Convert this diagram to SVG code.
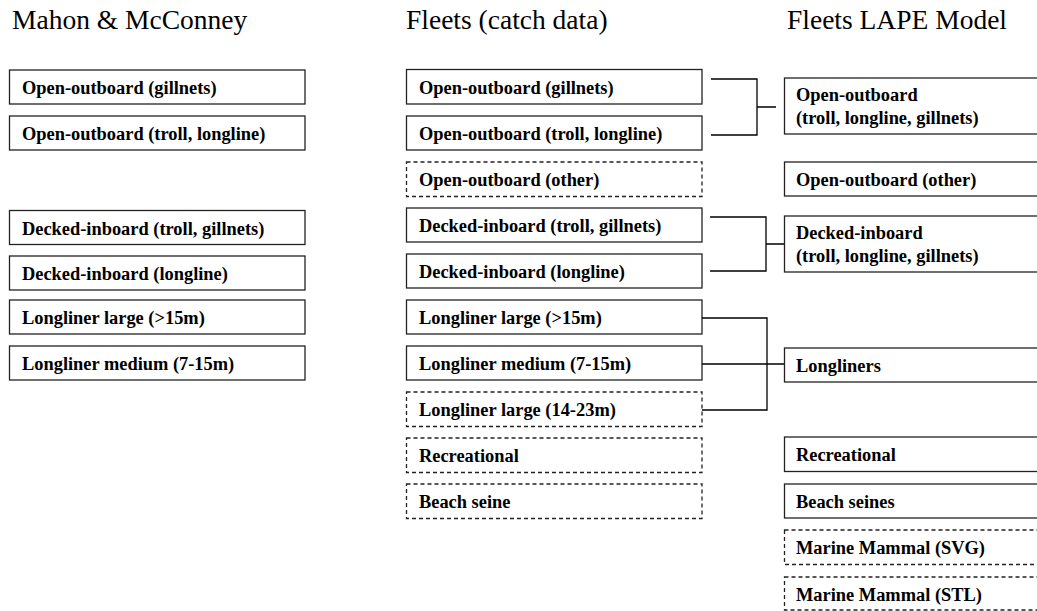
<svg xmlns="http://www.w3.org/2000/svg" width="1037" height="611" viewBox="0 0 1037 611">
<style>
.t{font-family:'Liberation Serif','Times New Roman',serif;font-size:27.5px;fill:#000}
.b{fill:#fff;stroke:#222;stroke-width:1.3}
.d{fill:#fff;stroke:#222;stroke-width:1.3;stroke-dasharray:4 3}
.l{font-family:'Liberation Serif','Times New Roman',serif;font-size:18.4px;font-weight:bold;fill:#000}
.c{fill:none;stroke:#000;stroke-width:1.3}
</style>
<rect width="1037" height="611" fill="#fff"/>
<g id="titles">
<text class="t" x="12" y="29">Mahon &amp; McConney</text>
<text class="t" x="406" y="29">Fleets (catch data)</text>
<text class="t" x="787" y="29">Fleets LAPE Model</text>
</g>
<g id="mm1"><rect class="b" x="9.5" y="70" width="295.5" height="34"/><text class="l" x="22" y="94">Open-outboard (gillnets)</text></g>
<g id="mm2"><rect class="b" x="9.5" y="116" width="295.5" height="34"/><text class="l" x="22" y="140">Open-outboard (troll, longline)</text></g>
<g id="mm3"><rect class="b" x="9.5" y="210.5" width="295.5" height="34"/><text class="l" x="22" y="234.5">Decked-inboard (troll, gillnets)</text></g>
<g id="mm4"><rect class="b" x="9.5" y="256" width="295.5" height="34"/><text class="l" x="22" y="280">Decked-inboard (longline)</text></g>
<g id="mm5"><rect class="b" x="9.5" y="300" width="295.5" height="34"/><text class="l" x="22" y="324">Longliner large (&gt;15m)</text></g>
<g id="mm6"><rect class="b" x="9.5" y="346" width="295.5" height="34"/><text class="l" x="22" y="370">Longliner medium (7-15m)</text></g>

<g id="fc1"><rect class="b" x="406.5" y="69.5" width="295.5" height="34.5"/><text class="l" x="419" y="94">Open-outboard (gillnets)</text></g>
<g id="fc2"><rect class="b" x="406.5" y="116" width="295.5" height="34"/><text class="l" x="419" y="140">Open-outboard (troll, longline)</text></g>
<g id="fc3"><rect class="d" x="406.5" y="162" width="295.5" height="34.5"/><text class="l" x="419" y="186">Open-outboard (other)</text></g>
<g id="fc4"><rect class="b" x="406.5" y="208" width="295.5" height="34"/><text class="l" x="419" y="232">Decked-inboard (troll, gillnets)</text></g>
<g id="fc5"><rect class="b" x="406.5" y="254" width="295.5" height="34"/><text class="l" x="419" y="278">Decked-inboard (longline)</text></g>
<g id="fc6"><rect class="b" x="406.5" y="300" width="295.5" height="34"/><text class="l" x="419" y="324">Longliner large (&gt;15m)</text></g>
<g id="fc7"><rect class="b" x="406.5" y="346" width="295.5" height="34"/><text class="l" x="419" y="370">Longliner medium (7-15m)</text></g>
<g id="fc8"><rect class="d" x="406.5" y="392" width="295.5" height="34.5"/><text class="l" x="419" y="416">Longliner large (14-23m)</text></g>
<g id="fc9"><rect class="d" x="406.5" y="438" width="295.5" height="34.5"/><text class="l" x="419" y="462">Recreational</text></g>
<g id="fc10"><rect class="d" x="406.5" y="484" width="295.5" height="34.5"/><text class="l" x="419" y="508">Beach seine</text></g>

<g id="lm1"><rect class="b" x="784.5" y="78" width="300" height="56"/><text class="l" x="796" y="101">Open-outboard</text><text class="l" x="796" y="124">(troll, longline, gillnets)</text></g>
<g id="lm2"><rect class="b" x="784.5" y="162" width="300" height="34"/><text class="l" x="796" y="186">Open-outboard (other)</text></g>
<g id="lm3"><rect class="b" x="784.5" y="216" width="300" height="56"/><text class="l" x="796" y="239">Decked-inboard</text><text class="l" x="796" y="262">(troll, longline, gillnets)</text></g>
<g id="lm4"><rect class="b" x="784.5" y="348" width="300" height="34"/><text class="l" x="796" y="372">Longliners</text></g>
<g id="lm5"><rect class="b" x="784.5" y="437" width="300" height="34.5"/><text class="l" x="796" y="461">Recreational</text></g>
<g id="lm6"><rect class="b" x="784.5" y="484" width="300" height="34"/><text class="l" x="796" y="508">Beach seines</text></g>
<g id="lm7"><rect class="d" x="784.5" y="530" width="300" height="34.5"/><text class="l" x="796" y="554">Marine Mammal (SVG)</text></g>
<g id="lm8"><rect class="d" x="784.5" y="577" width="300" height="33"/><text class="l" x="796" y="601">Marine Mammal (STL)</text></g>

<g id="connectors">
<path class="c" d="M711 79H757V135H711M757 107H776"/>
<path class="c" d="M710 217H766V271H710M766 244H784"/>
<path class="c" d="M702 318H767V410H702M702 364H784"/>
</g>
</svg>
